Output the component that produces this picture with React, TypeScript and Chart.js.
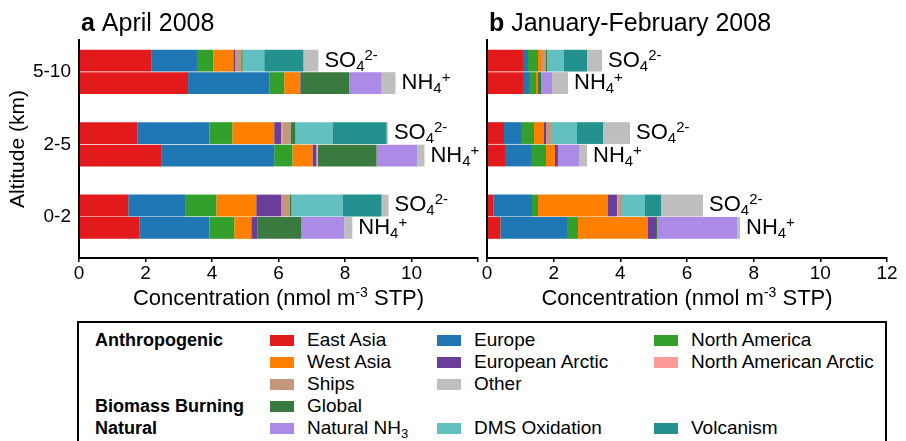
import React, { useEffect, useRef } from 'react';
import { Chart, registerables } from 'chart.js';

Chart.register(...registerables);

const FONT = '"Liberation Sans", Arial, Helvetica, sans-serif';

const ALTITUDE_LABELS = ['5-10', '2-5', '0-2'];
const X_TICKS = [0, 2, 4, 6, 8, 10, 12];
const SPECIES = ['SO4', 'NH4'];
const PANEL_TITLES = [
  ['a', ' April 2008'],
  ['b', ' January-February 2008'],
];

// Each array: [April SO4 (5-10, 2-5, 0-2), April NH4 (5-10, 2-5, 0-2),
//              Jan-Feb SO4 (5-10, 2-5, 0-2), Jan-Feb NH4 (5-10, 2-5, 0-2)]
const EAST_ASIA = [2.17, 1.75, 1.48, 3.28, 2.47, 1.81, 1.08, 0.51, 0.2, 1.08, 0.54, 0.4];
const EUROPE = [1.38, 2.17, 1.71, 2.44, 3.4, 2.11, 0.15, 0.51, 1.15, 0.18, 0.78, 2.0];
const NORTH_AMERICA = [0.49, 0.69, 0.94, 0.45, 0.55, 0.75, 0.3, 0.39, 0.18, 0.21, 0.45, 0.33];
const WEST_ASIA = [0.6, 1.26, 1.2, 0.46, 0.6, 0.51, 0.09, 0.3, 2.1, 0.06, 0.27, 2.1];
const EUROPEAN_ARCTIC = [0.06, 0.21, 0.75, 0.03, 0.12, 0.18, 0, 0.06, 0.27, 0, 0.06, 0.24];
const NORTH_AMERICAN_ARCTIC = [0, 0.03, 0, 0, 0.04, 0, 0, 0, 0.03, 0, 0, 0];
const SHIPS = [0.18, 0.25, 0.25, 0, 0, 0, 0.15, 0.15, 0.12, 0, 0, 0];
const BIOMASS_GLOBAL = [0.04, 0.15, 0.06, 1.47, 1.77, 1.33, 0.03, 0, 0, 0.09, 0.03, 0.03];
const NATURAL_NH3 = [0, 0, 0, 0.97, 1.23, 1.29, 0, 0, 0, 0.33, 0.63, 2.4];
const DMS_OXIDATION = [0.65, 1.11, 1.53, 0, 0, 0, 0.51, 0.78, 0.69, 0, 0, 0];
const VOLCANISM = [1.18, 1.63, 1.18, 0, 0, 0, 0.69, 0.78, 0.48, 0, 0, 0];
const OTHER = [0.45, 0.04, 0.21, 0.42, 0.21, 0.24, 0.45, 0.81, 1.26, 0.48, 0.24, 0.09];

const SOURCES = [
  { name: 'East Asia', color: '#e31a1c', values: EAST_ASIA },
  { name: 'Europe', color: '#1f78b4', values: EUROPE },
  { name: 'North America', color: '#33a02c', values: NORTH_AMERICA },
  { name: 'West Asia', color: '#ff7f00', values: WEST_ASIA },
  { name: 'European Arctic', color: '#6a3d9a', values: EUROPEAN_ARCTIC },
  { name: 'North American Arctic', color: '#fb9a99', values: NORTH_AMERICAN_ARCTIC },
  { name: 'Ships', color: '#c4967a', values: SHIPS },
  { name: 'Global', color: '#3b7a3e', values: BIOMASS_GLOBAL },
  { name: 'Natural NH3', color: '#ab8be6', values: NATURAL_NH3 },
  { name: 'DMS Oxidation', color: '#62c0c0', values: DMS_OXIDATION },
  { name: 'Volcanism', color: '#23918d', values: VOLCANISM },
  { name: 'Other', color: '#bebebe', values: OTHER },
];

const CANVAS_H = 315;
const AREA_BOTTOM = 258;

function colorOf(name: string) {
  return SOURCES.find((s) => s.name === name)!.color;
}

function textPlugin(panel: number) {
  return {
    id: 'panelTexts' + panel,
    afterDraw(chart: any) {
      const ctx = chart.ctx as CanvasRenderingContext2D;
      const area = chart.chartArea;
      const xs = chart.scales.x;
      ctx.save();
      ctx.fillStyle = '#000';
      ctx.textAlign = 'left';
      ctx.textBaseline = 'alphabetic';

      // panel title
      const [letter, rest] = PANEL_TITLES[panel];
      ctx.font = `bold 25px ${FONT}`;
      const tx = area.left + 2;
      ctx.fillText(letter, tx, 31);
      const lw = ctx.measureText(letter).width;
      ctx.font = `25px ${FONT}`;
      ctx.fillText(rest, tx + lw, 31);

      // x-axis title with superscript
      const partA = 'Concentration (nmol m';
      const sup = '-3';
      const partB = ' STP)';
      ctx.font = `22px ${FONT}`;
      const wA = ctx.measureText(partA).width;
      const wB = ctx.measureText(partB).width;
      ctx.font = `14px ${FONT}`;
      const wS = ctx.measureText(sup).width;
      const total = wA + wS + wB;
      const cx = (area.left + area.right) / 2;
      let px = cx - total / 2;
      const base = 305;
      ctx.font = `22px ${FONT}`;
      ctx.fillText(partA, px, base);
      px += wA;
      ctx.font = `14px ${FONT}`;
      ctx.fillText(sup, px, base - 8);
      px += wS;
      ctx.font = `22px ${FONT}`;
      ctx.fillText(partB, px, base);

      // y-axis title
      if (panel === 0) {
        ctx.save();
        ctx.translate(18, (area.top + area.bottom) / 2);
        ctx.rotate(-Math.PI / 2);
        ctx.textAlign = 'center';
        ctx.textBaseline = 'middle';
        ctx.font = `21px ${FONT}`;
        ctx.fillText('Altitude (km)', 0, 0);
        ctx.restore();
      }

      // bar-end labels
      for (let s = 0; s < 2; s++) {
        const lastIdx = s * SOURCES.length + SOURCES.length - 1;
        const meta = chart.getDatasetMeta(lastIdx);
        for (let i = 0; i < 3; i++) {
          const off = panel * 6 + s * 3 + i;
          const sum = SOURCES.reduce((acc, src) => acc + src.values[off], 0);
          const el = meta.data[i];
          const y = el.y;
          let x = xs.getPixelForValue(sum) + 6;
          const main = s === 0 ? 'SO' : 'NH';
          const supTxt = s === 0 ? '2-' : '+';
          ctx.font = `22px ${FONT}`;
          ctx.fillText(main, x, y + 6);
          x += ctx.measureText(main).width;
          ctx.font = `15px ${FONT}`;
          ctx.fillText('4', x, y + 10);
          x += ctx.measureText('4').width;
          ctx.fillText(supTxt, x, y - 1);
        }
      }
      ctx.restore();
    },
  };
}

function makeConfig(panel: number): any {
  const datasets: any[] = [];
  SPECIES.forEach((sp, s) => {
    SOURCES.forEach((src) => {
      const off = panel * 6 + s * 3;
      datasets.push({
        label: src.name,
        stack: sp,
        data: src.values.slice(off, off + 3).map((v, i) => ({ x: v, y: i })),
        backgroundColor: src.color,
        borderWidth: 0,
        categoryPercentage: 0.62,
        barPercentage: 0.97,
      });
    });
  });
  return {
    type: 'bar',
    data: { datasets },
    plugins: [textPlugin(panel)],
    options: {
      indexAxis: 'y',
      animation: false,
      responsive: false,
      devicePixelRatio: 1,
      layout: { padding: { top: 40, right: panel === 0 ? 2 : 19, left: 0, bottom: 0 } },
      plugins: { legend: { display: false }, tooltip: { enabled: false }, title: { display: false } },
      scales: {
        x: {
          type: 'linear',
          min: 0,
          max: 12,
          stacked: true,
          afterBuildTicks: (scale: any) => {
            scale.ticks = X_TICKS.map((v) => ({ value: v }));
          },
          afterFit: (scale: any) => {
            scale.height = CANVAS_H - AREA_BOTTOM;
          },
          ticks: {
            autoSkip: false,
            maxRotation: 0,
            padding: 0,
            color: '#000',
            font: { family: FONT, size: 19 },
            callback: (v: number) => (panel === 0 && v === 12 ? '' : String(v)),
          },
          grid: { drawOnChartArea: false, drawTicks: true, tickLength: 4, color: '#000', lineWidth: 1.5 },
          border: { display: true, color: '#000', width: 2 },
        },
        y: {
          type: 'linear',
          reverse: true,
          min: -0.44,
          max: 2.57,
          offset: false,
          stacked: true,
          afterBuildTicks: (scale: any) => {
            scale.ticks = ALTITUDE_LABELS.map((_, i) => ({ value: i }));
          },
          afterFit: (scale: any) => {
            scale.width = panel === 0 ? 79 : 7;
          },
          ticks: {
            display: panel === 0,
            padding: 8,
            color: '#000',
            font: { family: FONT, size: 19 },
            callback: (v: number) => ALTITUDE_LABELS[v] ?? '',
          },
          grid: { display: false, drawOnChartArea: false, drawTicks: false },
          border: { display: true, color: '#000', width: 2 },
        },
      },
    },
  };
}

function Panel({ panel, left, width }: { panel: number; left: number; width: number }) {
  const ref = useRef<HTMLCanvasElement | null>(null);
  useEffect(() => {
    const chart = new Chart(ref.current!, makeConfig(panel));
    return () => chart.destroy();
  }, [panel]);
  return (
    <canvas
      ref={ref}
      width={width}
      height={CANVAS_H}
      style={{ position: 'absolute', left, top: 0, width, height: CANVAS_H }}
    />
  );
}

const LEGEND_GROUPS = [
  { label: 'Anthropogenic', row: 0 },
  { label: 'Biomass Burning', row: 3 },
  { label: 'Natural', row: 4 },
];
const LEGEND_ITEMS = [
  { name: 'East Asia', row: 0, col: 0 },
  { name: 'Europe', row: 0, col: 1 },
  { name: 'North America', row: 0, col: 2 },
  { name: 'West Asia', row: 1, col: 0 },
  { name: 'European Arctic', row: 1, col: 1 },
  { name: 'North American Arctic', row: 1, col: 2 },
  { name: 'Ships', row: 2, col: 0 },
  { name: 'Other', row: 2, col: 1 },
  { name: 'Global', row: 3, col: 0 },
  { name: 'Natural NH3', row: 4, col: 0 },
  { name: 'DMS Oxidation', row: 4, col: 1 },
  { name: 'Volcanism', row: 4, col: 2 },
];
const SWATCH_X = [270, 437, 654];
const ROW_Y = [340, 362, 384, 406, 428];

function Legend() {
  return (
    <div>
      <div
        style={{
          position: 'absolute',
          left: 77,
          top: 321,
          width: 810,
          height: 140,
          border: '2px solid #000',
          boxSizing: 'border-box',
        }}
      />
      {LEGEND_GROUPS.map((g) => (
        <div
          key={g.label}
          style={{
            position: 'absolute',
            left: 95,
            top: ROW_Y[g.row] - 11,
            height: 22,
            lineHeight: '22px',
            fontFamily: FONT,
            fontWeight: 'bold',
            fontSize: 18,
            color: '#000',
            whiteSpace: 'nowrap',
          }}
        >
          {g.label}
        </div>
      ))}
      {LEGEND_ITEMS.map((it) => (
        <React.Fragment key={it.name}>
          <div
            style={{
              position: 'absolute',
              left: SWATCH_X[it.col],
              top: ROW_Y[it.row] - 5,
              width: 24,
              height: 11,
              background: colorOf(it.name),
            }}
          />
          <div
            style={{
              position: 'absolute',
              left: SWATCH_X[it.col] + 37,
              top: ROW_Y[it.row] - 11,
              height: 22,
              lineHeight: '22px',
              fontFamily: FONT,
              fontSize: 19,
              color: '#000',
              whiteSpace: 'nowrap',
            }}
          >
            {it.name === 'Natural NH3' ? (
              <span>
                Natural NH<sub style={{ fontSize: 13, verticalAlign: '-4px', lineHeight: 0 }}>3</sub>
              </span>
            ) : (
              it.name
            )}
          </div>
        </React.Fragment>
      ))}
    </div>
  );
}

export default function App() {
  return (
    <div
      style={{
        position: 'fixed',
        left: 0,
        top: 0,
        width: 906,
        height: 441,
        overflow: 'hidden',
        background: '#fff',
      }}
    >
      <Panel panel={0} left={0} width={480} />
      <Panel panel={1} left={480} width={426} />
      <Legend />
    </div>
  );
}
